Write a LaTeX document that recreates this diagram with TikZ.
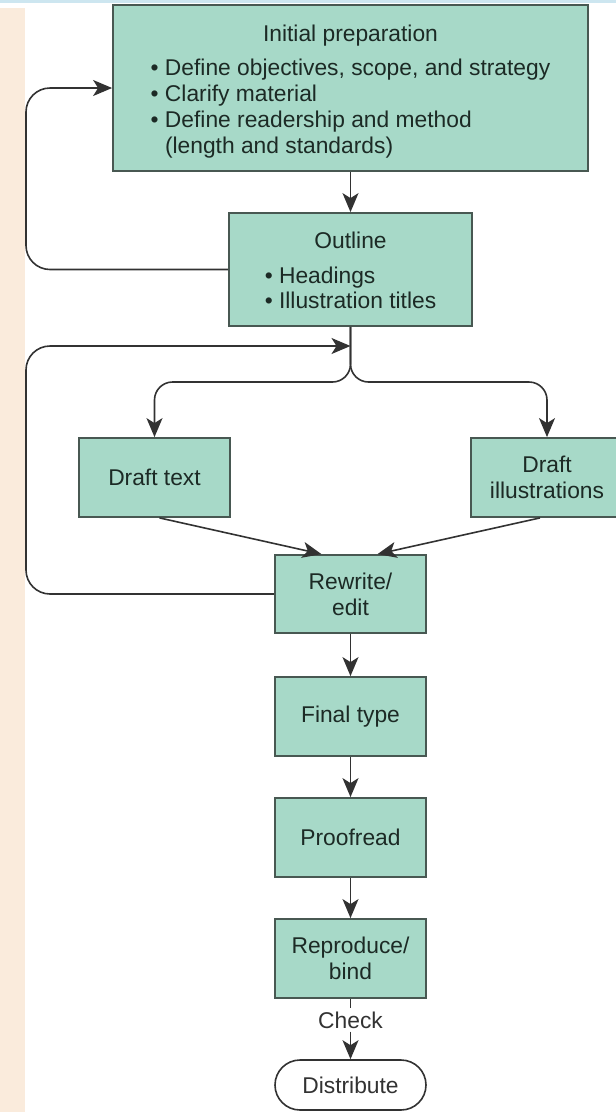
\documentclass[tikz,border=0pt]{standalone}
\usepackage{fontspec}
\setmainfont{Liberation Sans}
\usetikzlibrary{arrows.meta}

\definecolor{boxfill}{RGB}{167,217,200}
\definecolor{boxline}{RGB}{72,88,82}
\definecolor{boxtext}{RGB}{28,42,37}
\definecolor{inkline}{RGB}{50,50,50}
\definecolor{margin}{RGB}{250,235,220}
\definecolor{topband}{RGB}{205,230,240}

\begin{document}
\begin{tikzpicture}[x=1pt,y=-1pt,
  font=\fontsize{22.8}{25.7}\selectfont,
  box/.style={draw=boxline,fill=boxfill,line width=1.8pt,text=boxtext,align=center,inner sep=0pt},
  stage/.style={box,minimum width=151pt,minimum height=79pt},
  arr/.style={draw=inkline,line width=1.6pt,-{Stealth[length=19pt,width=16pt,inset=5pt]}},
  back/.style={arr,rounded corners=24pt}]
  \useasboundingbox (0,0) rectangle (616,1112);
  \fill[margin] (0,8) rectangle (25,1112);
  \fill[topband] (0,0) rectangle (616,3);

  \node (prep) at (350.5,88) [box,minimum width=475pt,minimum height=166pt] {\rule{0pt}{26pt}Initial preparation\\[9pt]
    \begin{tabular}[t]{@{}l@{}}
      \textbullet\ Define objectives, scope, and strategy\\
      \textbullet\ Clarify material\\
      \textbullet\ Define readership and method\\
      \phantom{\textbullet}\ (length and standards)
    \end{tabular}};
  \node (outline) at (350.5,269.5) [box,minimum width=243pt,minimum height=113pt] {\rule{0pt}{26pt}Outline\\[9pt]
    \begin{tabular}[t]{@{}l@{}}
      \textbullet\ Headings\\
      \textbullet\ Illustration titles
    \end{tabular}};
  \node (dtext) at (154.5,477.5) [stage] {Draft text};
  \node (dill) at (547,477.5) [stage,minimum width=152pt] {Draft\\illustrations};
  \node (rewrite) at (350.5,594) [stage,minimum height=78pt] {Rewrite/\\edit};
  \node (final) at (350.5,716.5) [stage] {Final type};
  \node (proof) at (350.5,837.5) [stage] {Proofread};
  \node (repro) at (350.5,958.5) [stage] {Reproduce/\\bind};
  \node (check) at (350.5,1020) [text=inkline,inner sep=3pt] {Check};
  \node (dist) at (350.5,1085) [draw=inkline,fill=white,line width=1.6pt,rounded corners=25pt,text=inkline,minimum width=151pt,minimum height=50pt,inner sep=0pt] {Distribute};

  \coordinate (rail) at (26,0);
  \coordinate (fork) at (350.5,382);
  \coordinate (join) at (350.5,346);

  \draw[arr] (prep) -- (outline);
  \draw[back] (outline.west) -- (outline.west -| rail) |- (prep.west);
  \draw[arr,rounded corners=18pt] (outline.south) -- (fork) -| (dtext.north);
  \draw[arr,rounded corners=18pt] (outline.south) -- (fork) -| (dill.north);
  \draw[back] (rewrite.west) -- (rewrite.west -| rail) |- (join);
  \draw[arr] ([xshift=5pt]dtext.south) -- ([xshift=-29pt]rewrite.north);
  \draw[arr] ([xshift=-7pt]dill.south) -- ([xshift=27pt]rewrite.north);
  \draw[arr] (rewrite) -- (final);
  \draw[arr] (final) -- (proof);
  \draw[arr] (proof) -- (repro);
  \draw[draw=inkline,line width=1.6pt] (repro) -- (check);
  \draw[arr] (check) -- (dist);
\end{tikzpicture}
\end{document}
